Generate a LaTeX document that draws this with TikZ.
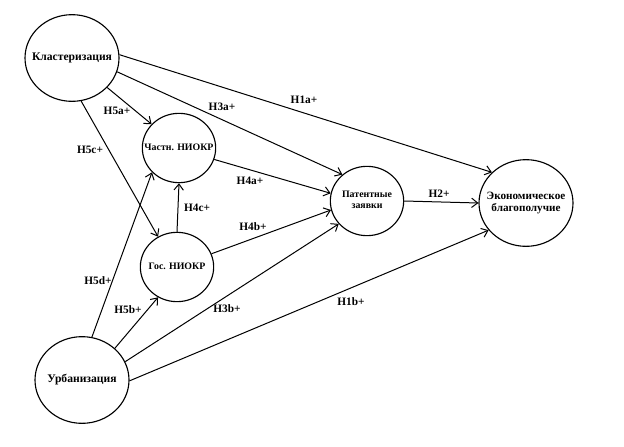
\documentclass[tikz,border=0pt]{standalone}
\usepackage{fontspec}
\setmainfont{Liberation Serif}
\usepackage{tikz}
\usetikzlibrary{shapes.geometric,arrows.meta,positioning}

% text that does not stretch the ellipse
\newcommand\vartext[2][0pt]{\makebox[0pt]{\raisebox{#1}{\begin{tabular}{@{}c@{}}#2\end{tabular}}}}

\begin{document}
\begin{tikzpicture}[x=0.75pt,y=-0.75pt]
  \tikzset{
    bigvar/.style={draw=black, ellipse, line width=0.85pt, fill=white, minimum width=70.5pt, minimum height=65pt, inner sep=0pt, font=\fontsize{8.7}{10}\selectfont\bfseries},
    smallvar/.style={draw=black, ellipse, line width=0.85pt, fill=white, minimum width=55pt, minimum height=52pt, inner sep=0pt, font=\fontsize{7.4}{8.5}\selectfont\bfseries},
    hyp/.style={-{Straight Barb[length=4.5pt,width=7pt]}, black, line width=0.75pt},
    lbl/.style={font=\fontsize{8.5}{9}\selectfont\bfseries, inner sep=1pt}
  }
  \useasboundingbox (0,0) rectangle (624,446);

  % Constructs
  \node[bigvar] (klas) at (72,58) {\vartext{Кластеризация}};
  \node[bigvar] (urb) at (82,380) {\vartext{Урбанизация}};
  \node[smallvar] (chast) at (179,148) {\vartext{Частн. НИОКР}};
  \node[smallvar] (gos) at (177,267) {\vartext{Гос. НИОКР}};
  \node[smallvar] (pat) at (367,201) {\vartext[2.5pt]{Патентные\\заявки}};
  \node[bigvar, font=\fontsize{8.4}{9.5}\selectfont\bfseries] (econ) at (526,203) {\vartext[6pt]{Экономическое\\благополучие}};

  % Paths
  \draw[hyp] (klas.4) -- (econ.138);
  \draw[hyp] (klas.-17) -- (pat.133);
  \draw[hyp] (klas.-40) -- (chast.139);
  \draw[hyp] (klas.-78) -- (gos.122);
  \draw[hyp] (chast.-18) -- (pat.168);
  \draw[hyp] (gos.north) -- (chast.south);
  \draw[hyp] (gos.21) -- (pat.194);
  \draw[hyp] (urb.77) -- (chast.222);
  \draw[hyp] (urb.44) -- (gos.238);
  \draw[hyp] (urb.23) -- (pat.219);
  \draw[hyp] (urb.-1) -- (econ.216);
  \draw[hyp] (pat.east) -- (econ.west);

  % Hypothesis labels
  \node[lbl] (h1a) at (304,100) {H1a+};
  \node[lbl] (h3a) at (222,107) {H3a+};
  \node[lbl] (h5a) at (117,111) {H5a+};
  \node[lbl] (h5c) at (90,150) {H5c+};
  \node[lbl] (h4a) at (250,181) {H4a+};
  \node[lbl] (h4c) at (197,208) {H4c+};
  \node[lbl] (h4b) at (253,227) {H4b+};
  \node[lbl] (h5d) at (98,281) {H5d+};
  \node[lbl] (h5b) at (128,310) {H5b+};
  \node[lbl] (h3b) at (227,309) {H3b+};
  \node[lbl] (h1b) at (351,302) {H1b+};
  \node[lbl] (h2) at (439,194) {H2+};

\end{tikzpicture}
\end{document}
